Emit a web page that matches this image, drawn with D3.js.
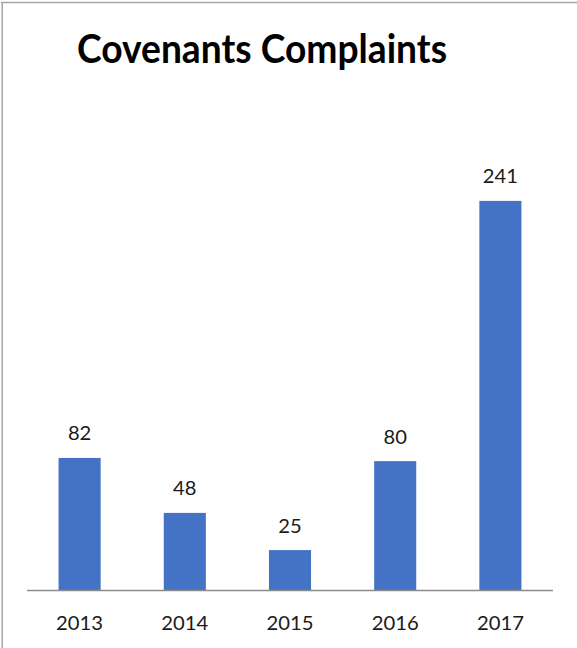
<!DOCTYPE html>
<html>
<head>
<meta charset="utf-8">
<script src="https://cdn.jsdelivr.net/npm/d3@7"></script>
<style>
  html, body { margin: 0; padding: 0; background: #fff; }
  svg { display: block; }
</style>
</head>
<body>
<svg id="chart" width="577" height="648"></svg>
<script>
const title = "Covenants Complaints";
const years = ["2013", "2014", "2015", "2016", "2017"];
const complaints = [82, 48, 25, 80, 241];
const yMax = 300;

const svg = d3.select("#chart");
const W = 577, H = 648;
const font = "Lato, 'Open Sans', sans-serif";

svg.append("rect").attr("width", W).attr("height", H).attr("fill", "#fff");

// frame (top and left edges visible)
svg.append("line").attr("x1", 1).attr("x2", W).attr("y1", 2.5).attr("y2", 2.5)
  .attr("stroke", "#a6a6a6").attr("stroke-width", 1.5);
svg.append("line").attr("x1", 2.2).attr("x2", 2.2).attr("y1", 2).attr("y2", H)
  .attr("stroke", "#a6a6a6").attr("stroke-width", 1.5);

// title
svg.append("text")
  .attr("x", 262).attr("y", 63)
  .attr("text-anchor", "middle")
  .attr("font-family", font).attr("font-weight", "bold")
  .attr("font-size", 40).attr("fill", "#000")
  .attr("textLength", 370).attr("lengthAdjust", "spacingAndGlyphs")
  .text(title);

const x = d3.scaleBand().domain(years).range([27, 553]).paddingInner(0.6).paddingOuter(0.3);
const y = d3.scaleLinear().domain([0, yMax]).range([590.5, 105.5]);

const data = years.map((yr, i) => ({ year: yr, value: complaints[i] }));

svg.selectAll("rect.bar").data(data).enter().append("rect")
  .attr("class", "bar")
  .attr("x", d => x(d.year))
  .attr("width", x.bandwidth())
  .attr("y", d => y(d.value))
  .attr("height", d => y(0) - y(d.value))
  .attr("fill", "#4472C4");

// x axis
const xAxis = d3.axisBottom(x).tickSize(0).tickPadding(0);
const gx = svg.append("g").attr("transform", `translate(0,${y(0)})`).call(xAxis);
gx.select(".domain").attr("stroke", "#8c8c8c").attr("stroke-width", 1.5)
  .attr("d", "M27,0H553");
gx.selectAll(".tick text")
  .attr("y", 39.5).attr("dy", null)
  .attr("font-family", font).attr("font-size", 19).attr("fill", "#1a1a1a")
  .attr("textLength", 47).attr("lengthAdjust", "spacingAndGlyphs");

// value labels
svg.selectAll("text.val").data(data).enter().append("text")
  .attr("class", "val")
  .attr("x", d => x(d.year) + x.bandwidth() / 2)
  .attr("y", d => y(d.value) - 17.5)
  .attr("text-anchor", "middle")
  .attr("font-family", font).attr("font-size", 19).attr("fill", "#1a1a1a")
  .attr("textLength", d => String(d.value).length * 11.7)
  .attr("lengthAdjust", "spacingAndGlyphs")
  .text(d => d.value);
</script>
</body>
</html>
